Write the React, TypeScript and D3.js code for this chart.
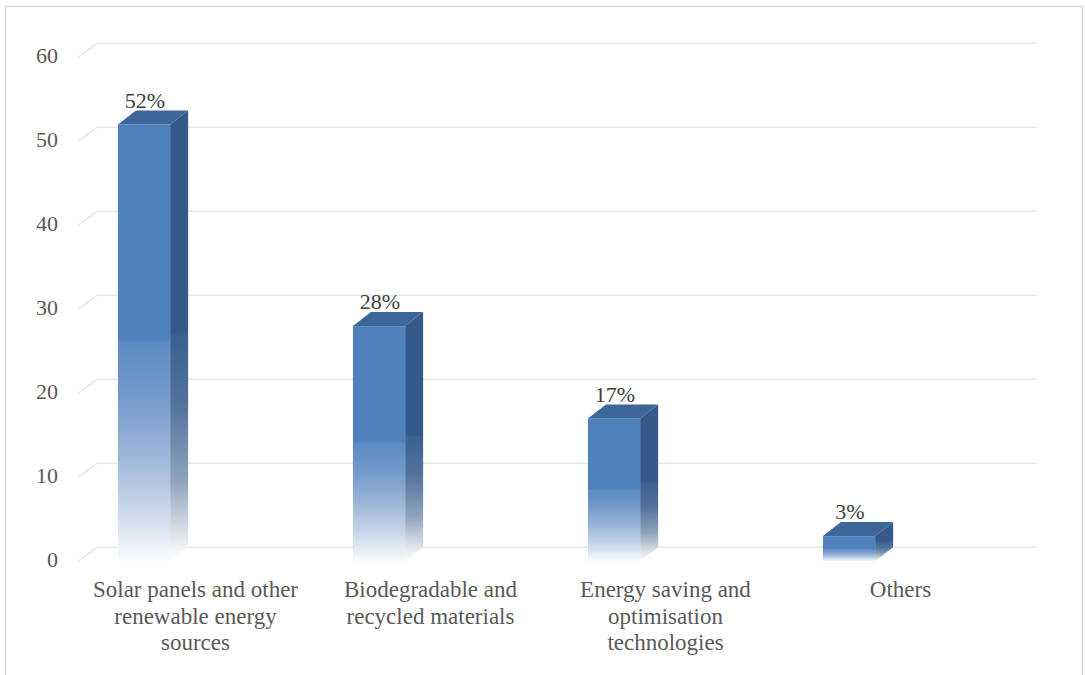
import React from "react";
import * as d3 from "d3";

const categories: string[] = [
  "Solar panels and other\nrenewable energy\nsources",
  "Biodegradable and\nrecycled materials",
  "Energy saving and\noptimisation\ntechnologies",
  "Others",
];
const values: number[] = [52, 28, 17, 3];
const valueLabels: string[] = ["52%", "28%", "17%", "3%"];
const yTicks: number[] = [0, 10, 20, 30, 40, 50, 60];

const W = 1085;
const H = 675;
const FONT = "'Liberation Serif'";

export default function App() {
  const x = d3.scaleBand<string>().domain(categories).range([78, 1018]).padding(0);
  const y = d3.scaleLinear().domain([0, 60]).range([561.3, 57.3]);
  const wallDx = 19;
  const wallDy = -14;
  const barDx = 18;
  const barDy = -14;
  const bw = x.bandwidth();
  const barW = bw * 0.222;
  const barOff = bw * 0.17;
  const txt = { fontFamily: FONT, fontSize: 22 } as React.CSSProperties;
  const catTxt = { fontFamily: FONT, fontSize: 23 } as React.CSSProperties;

  return (
    <svg width={W} height={H} style={{ position: "absolute", left: 0, top: 0, background: "#fff" }}>
      <defs>
        <linearGradient id="frontGrad" x1="0" y1="0" x2="0" y2="1">
          <stop offset="0" stopColor="#4F81BD" />
          <stop offset="0.49" stopColor="#4F81BD" />
          <stop offset="0.5" stopColor="#5d8bc3" />
          <stop offset="0.62" stopColor="#7399cb" />
          <stop offset="0.78" stopColor="#a4bcdc" />
          <stop offset="0.92" stopColor="#d7e2f0" />
          <stop offset="1" stopColor="#fbfcfe" />
        </linearGradient>
        <linearGradient id="sideGrad" x1="0" y1="0" x2="0" y2="1">
          <stop offset="0" stopColor="#34598A" />
          <stop offset="0.49" stopColor="#34598A" />
          <stop offset="0.5" stopColor="#3a6192" />
          <stop offset="0.65" stopColor="#52729c" />
          <stop offset="0.82" stopColor="#8fa3bd" />
          <stop offset="0.94" stopColor="#dfe3e9" />
          <stop offset="1" stopColor="#ffffff" />
        </linearGradient>
      </defs>
      <rect x={5.5} y={6.5} width={1077} height={700} fill="#fff" stroke="#d9d9d9" strokeWidth={1.5} />

      {yTicks.map((t) => (
        <path
          key={"g" + t}
          d={`M78,${y(t)} L${78 + wallDx},${y(t) + wallDy} L${1018 + wallDx},${y(t) + wallDy}`}
          fill="none"
          stroke="#e8e8e8"
          strokeWidth={1.6}
        />
      ))}

      {yTicks.map((t) => (
        <text key={"t" + t} x={58} y={y(t) + 1} textAnchor="end" dominantBaseline="middle" style={txt} fill="#595959">
          {t}
        </text>
      ))}

      {categories.map((c, i) => {
        const x0 = (x(c) as number) + barOff;
        const x1 = x0 + barW;
        const yt = y(values[i]);
        const yb = y(0);
        return (
          <g key={"b" + i}>
            <path
              d={`M${x1},${yt} L${x1 + barDx},${yt + barDy} L${x1 + barDx},${yb + barDy} L${x1},${yb} Z`}
              fill="url(#sideGrad)"
            />
            <rect x={x0} y={yt} width={barW} height={yb - yt} fill="url(#frontGrad)" />
            <path
              d={`M${x0},${yt} L${x0 + barDx},${yt + barDy} L${x1 + barDx},${yt + barDy} L${x1},${yt} Z`}
              fill="#3D6799"
            />
            <text x={(x0 + x1) / 2 + 1} y={yt + barDy - 3} textAnchor="middle" style={txt} fill="#404040">
              {valueLabels[i]}
            </text>
          </g>
        );
      })}

      {categories.map((c) => {
        const cx = (x(c) as number) + bw / 2;
        const lines = c.split("\n");
        return (
          <text key={"c" + c} x={cx} y={592} textAnchor="middle" dominantBaseline="middle" style={catTxt} fill="#595959">
            {lines.map((l, j) => (
              <tspan key={j} x={cx} y={592 + j * 26.5}>
                {l}
              </tspan>
            ))}
          </text>
        );
      })}
    </svg>
  );
}
